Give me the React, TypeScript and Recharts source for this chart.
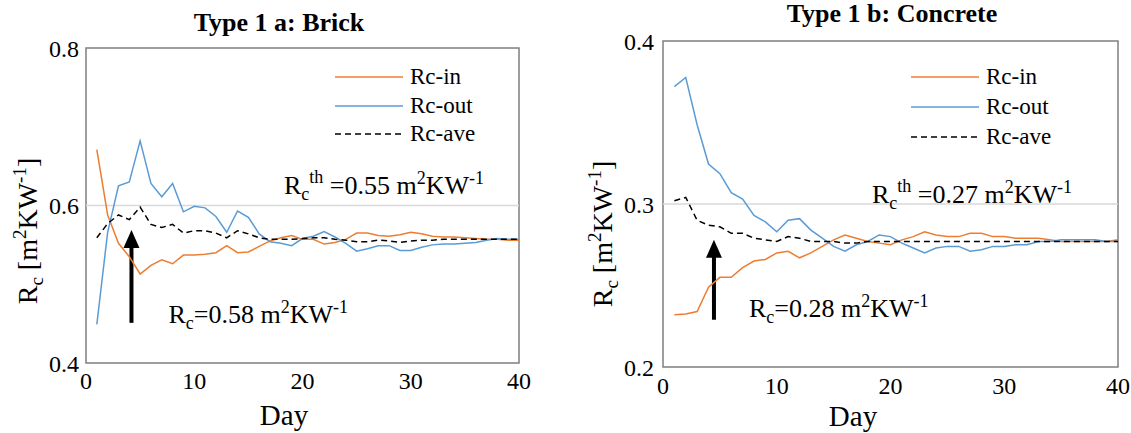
import {
	Legend,
	Line,
	LineChart,
	ReferenceArea,
	ReferenceLine,
	XAxis,
	YAxis,
} from "recharts";

const DAYS = [
	1, 2, 3, 4, 5, 6, 7, 8, 9, 10, 11, 12, 13, 14, 15, 16, 17, 18, 19, 20,
	21, 22, 23, 24, 25, 26, 27, 28, 29, 30, 31, 32, 33, 34, 35, 36, 37, 38, 39, 40,
];

const BRICK_IN = [
	0.671, 0.588, 0.552, 0.535, 0.513, 0.524, 0.531, 0.526, 0.537, 0.537,
	0.538, 0.54, 0.549, 0.54, 0.541, 0.548, 0.555, 0.559, 0.562, 0.557,
	0.557, 0.551, 0.553, 0.557, 0.565, 0.565, 0.562, 0.561, 0.563, 0.566,
	0.564, 0.561, 0.56, 0.56, 0.559, 0.558, 0.557, 0.557, 0.556, 0.556,
];
const BRICK_OUT = [
	0.449, 0.566, 0.625, 0.63, 0.682, 0.628, 0.611, 0.628, 0.592, 0.599,
	0.597, 0.586, 0.566, 0.593, 0.585, 0.564, 0.554, 0.552, 0.549, 0.558,
	0.561, 0.567, 0.56, 0.552, 0.542, 0.545, 0.549, 0.549, 0.543, 0.543,
	0.547, 0.55, 0.551, 0.551, 0.552, 0.553, 0.556, 0.558, 0.557, 0.557,
];
const BRICK_AVE = [
	0.559, 0.577, 0.588, 0.582, 0.598, 0.576, 0.572, 0.576, 0.565, 0.568,
	0.568, 0.565, 0.559, 0.568, 0.564, 0.559, 0.557, 0.557, 0.557, 0.558,
	0.559, 0.559, 0.557, 0.556, 0.554, 0.554, 0.556, 0.555, 0.553, 0.555,
	0.556, 0.556, 0.557, 0.557, 0.557, 0.557, 0.557, 0.557, 0.557, 0.557,
];

const CONCRETE_IN = [
	0.232, 0.2325, 0.234, 0.249, 0.255, 0.255, 0.261, 0.265, 0.266, 0.27,
	0.271, 0.267, 0.27, 0.274, 0.278, 0.281, 0.279, 0.277, 0.276, 0.275,
	0.278, 0.28, 0.283, 0.281, 0.28, 0.28, 0.282, 0.282, 0.28, 0.28,
	0.279, 0.279, 0.279, 0.278, 0.277, 0.277, 0.277, 0.277, 0.277, 0.278,
];
const CONCRETE_OUT = [
	0.372, 0.3776, 0.3486, 0.3245, 0.3186, 0.307, 0.303, 0.293, 0.289, 0.283,
	0.29, 0.291, 0.284, 0.279, 0.274, 0.271, 0.275, 0.277, 0.281, 0.28,
	0.276, 0.273, 0.27, 0.273, 0.274, 0.274, 0.271, 0.272, 0.274, 0.274,
	0.275, 0.275, 0.277, 0.277, 0.278, 0.278, 0.278, 0.278, 0.277, 0.277,
];
const CONCRETE_AVE = [
	0.302, 0.304, 0.29, 0.287, 0.286, 0.282, 0.282, 0.279, 0.278, 0.277,
	0.28, 0.279, 0.277, 0.277, 0.277, 0.276, 0.276, 0.277, 0.277, 0.277,
	0.277, 0.277, 0.277, 0.277, 0.277, 0.277, 0.277, 0.277, 0.277, 0.277,
	0.277, 0.277, 0.277, 0.277, 0.277, 0.277, 0.277, 0.277, 0.277, 0.277,
];

const X_TICKS = [0, 10, 20, 30, 40];
const BRICK_Y_TICKS = [0.4, 0.6, 0.8];
const CONCRETE_Y_TICKS = [0.2, 0.3, 0.4];

const SERIES = [
	{ key: "rcIn", name: "Rc-in", color: "#ED7D31", dash: undefined },
	{ key: "rcOut", name: "Rc-out", color: "#5B9BD5", dash: undefined },
	{ key: "rcAve", name: "Rc-ave", color: "#000000", dash: "6 4" },
];

const FONT = "Liberation Serif, serif";
const H = 433;

const toRows = (a: number[], b: number[], c: number[]) =>
	DAYS.map((day, i) => ({ day, rcIn: a[i], rcOut: b[i], rcAve: c[i] }));

// R_c with optional superscript "th", then " =value m2KW-1"
function RcText({ x, y, th, value, size }: any) {
	const small = Math.round(size * 0.68);
	return (
		<text x={x} y={y} fontSize={size} fontFamily={FONT} fill="#000" style={{ whiteSpace: "pre" }}>
			<tspan>R</tspan>
			<tspan fontSize={small} dy={6}>c</tspan>
			{th ? (
				<>
					<tspan fontSize={small} dy={-17}>th</tspan>
					<tspan dy={11}>{` =${value} m`}</tspan>
				</>
			) : (
				<tspan dy={-6}>{`=${value} m`}</tspan>
			)}
			<tspan fontSize={small} dy={-10}>2</tspan>
			<tspan dy={10}>KW</tspan>
			<tspan fontSize={small} dy={-10}>-1</tspan>
		</text>
	);
}

function Arrow({ x1, y1, x2, y2 }: any) {
	const top = Math.min(y1, y2);
	const bottom = Math.max(y1, y2);
	return (
		<g>
			<line x1={x1} y1={bottom} x2={x2} y2={top + 12} stroke="#000" strokeWidth={4} />
			<polygon points={`${x2},${top} ${x2 - 8},${top + 18} ${x2 + 8},${top + 18}`} fill="#000" />
		</g>
	);
}

function Panel({ cfg }: any) {
	const c = cfg;
	const data = toRows(c.a, c.b, c.c);
	const rowH = c.legendRow;
	const tickStyle = { fill: "#000", fontSize: 24, fontFamily: FONT };
	return (
		<div style={{ position: "absolute", left: c.left, top: 0, width: c.width, height: H }}>
			<div
				style={{
					position: "absolute",
					left: c.titleX - 200,
					width: 400,
					top: c.titleBase - 22,
					textAlign: "center",
					fontSize: 26,
					lineHeight: "26px",
					fontWeight: "bold",
					whiteSpace: "nowrap",
				}}
			>
				{c.title}
			</div>
			<LineChart
				width={c.width}
				height={H}
				data={data}
				margin={{ top: c.plotTop, left: 0, right: c.width - c.plotRight, bottom: 0 }}
			>
				<XAxis
					dataKey="day"
					type="number"
					domain={[0, 40]}
					ticks={X_TICKS}
					axisLine={false}
					tickLine={false}
					tickSize={6}
					tickMargin={c.xTickMargin}
					height={H - c.plotBottom}
					tick={tickStyle}
					label={{
						content: () => (
							<text x={c.dayX} y={c.dayBase} textAnchor="middle" fontSize={29} fontFamily={FONT} fill="#000">
								Day
							</text>
						),
					}}
				/>
				<YAxis
					type="number"
					domain={c.yDomain}
					ticks={c.yTicks}
					axisLine={false}
					tickLine={false}
					tickSize={5}
					tickMargin={c.yTickMargin}
					width={c.plotLeft}
					tickFormatter={(v: number) => v.toFixed(1)}
					tick={tickStyle}
					label={{
						content: () => (
							<text
								transform={`translate(${c.yLabelX},${c.yLabelY}) rotate(-90)`}
								textAnchor="middle"
								fontSize={28}
								fontFamily={FONT}
								fill="#000"
								style={{ whiteSpace: "pre" }}
							>
								<tspan>R</tspan>
								<tspan fontSize={19} dy={6}>c</tspan>
								<tspan dy={-6}>{" [m"}</tspan>
								<tspan fontSize={19} dy={-11}>2</tspan>
								<tspan dy={11}>KW</tspan>
								<tspan fontSize={19} dy={-11}>-1</tspan>
								<tspan dy={11}>]</tspan>
							</text>
						),
					}}
				/>
				<ReferenceLine
					y={c.gridY}
					stroke="#d9d9d9"
					strokeWidth={1.5}
					label={{
						content: ({ viewBox }: any) => (
							<RcText x={viewBox.x + c.thDx} y={viewBox.y + c.thDy} th value={c.thValue} size={26} />
						),
					}}
				/>
				<ReferenceArea
					x1={0}
					x2={40}
					y1={c.yDomain[0]}
					y2={c.yDomain[1]}
					fill="none"
					stroke="#7f7f7f"
					strokeWidth={1.5}
				/>
				<ReferenceLine
					segment={[
						{ x: c.arrowDay, y: c.arrowFrom },
						{ x: c.arrowDay, y: c.arrowTo },
					]}
					shape={(p: any) => <Arrow {...p} />}
					label={{
						content: ({ viewBox }: any) => (
							<RcText
								x={viewBox.x + c.rcDx}
								y={viewBox.y + viewBox.height + c.rcDy}
								value={c.rcValue}
								size={26}
							/>
						),
					}}
				/>
				{SERIES.map((s) => (
					<Line
						key={s.key}
						type="linear"
						dataKey={s.key}
						name={s.name}
						stroke={s.color}
						strokeWidth={1.5}
						strokeDasharray={s.dash}
						dot={false}
						isAnimationActive={false}
					/>
				))}
				<Legend
					layout="vertical"
					align="center"
					verticalAlign="middle"
					wrapperStyle={{ left: c.legendX, top: c.legendY, width: 170, height: rowH * 3 }}
					content={() => (
						<div style={{ fontFamily: FONT }}>
							{SERIES.map((s) => (
								<div key={s.key} style={{ display: "flex", alignItems: "center", height: rowH }}>
									<svg width={68} height={4}>
										<line x1={0} y1={2} x2={68} y2={2} stroke={s.color} strokeWidth={1.5} strokeDasharray={s.dash} />
									</svg>
									<span style={{ marginLeft: 7, fontSize: 23, lineHeight: `${rowH}px` }}>{s.name}</span>
								</div>
							))}
						</div>
					)}
				/>
			</LineChart>
		</div>
	);
}

const BRICK = {
	title: "Type 1 a: Brick",
	a: BRICK_IN,
	b: BRICK_OUT,
	c: BRICK_AVE,
	yDomain: [0.4, 0.8],
	yTicks: BRICK_Y_TICKS,
	gridY: 0.6,
	thValue: "0.55",
	rcValue: "0.58",
	arrowDay: 4.2,
	arrowFrom: 0.451,
	arrowTo: 0.569,
	left: 0,
	width: 565,
	plotLeft: 86,
	plotRight: 519,
	plotTop: 48,
	plotBottom: 363,
	xTickMargin: 3,
	yTickMargin: 2,
	titleX: 279,
	titleBase: 32,
	dayX: 284,
	dayBase: 425,
	yLabelX: 37,
	yLabelY: 231,
	thDx: 198,
	thDy: -12,
	rcDx: 37,
	rcDy: 0,
	legendX: 335,
	legendY: 63,
	legendRow: 28.5,
};

const CONCRETE = {
	title: "Type 1 b: Concrete",
	a: CONCRETE_IN,
	b: CONCRETE_OUT,
	c: CONCRETE_AVE,
	yDomain: [0.2, 0.4],
	yTicks: CONCRETE_Y_TICKS,
	gridY: 0.3,
	thValue: "0.27",
	rcValue: "0.28",
	arrowDay: 4.48,
	arrowFrom: 0.229,
	arrowTo: 0.278,
	left: 565,
	width: 566,
	plotLeft: 98,
	plotRight: 553,
	plotTop: 41,
	plotBottom: 367,
	xTickMargin: 4,
	yTickMargin: 4,
	titleX: 327,
	titleBase: 23,
	dayX: 288,
	dayBase: 426,
	yLabelX: 47,
	yLabelY: 234,
	thDx: 209,
	thDy: -1,
	rcDx: 35,
	rcDy: -3,
	legendX: 346,
	legendY: 62,
	legendRow: 30,
};

export default function App() {
	return (
		<div
			style={{
				position: "absolute",
				left: 0,
				top: 0,
				width: 1131,
				height: H,
				background: "#fff",
				fontFamily: FONT,
				color: "#000",
			}}
		>
			<Panel cfg={BRICK} />
			<Panel cfg={CONCRETE} />
		</div>
	);
}
